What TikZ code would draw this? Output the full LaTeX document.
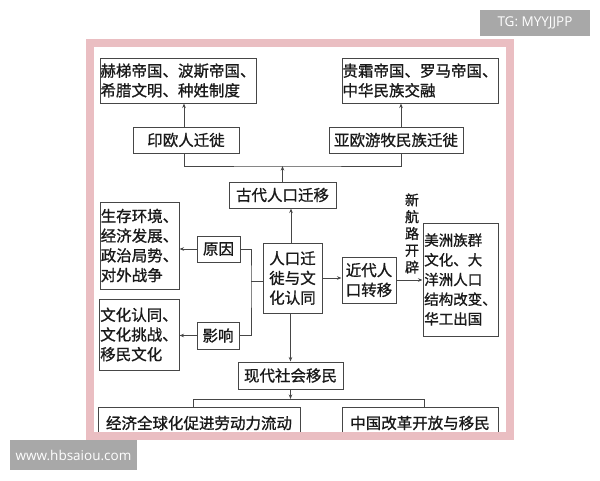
\documentclass[tikz,border=0pt]{standalone}
\usepackage{fontspec}
\setmainfont{Noto Sans CJK SC}[FakeBold=1]
\newfontfamily\wmfont{Open Sans}
\usetikzlibrary{arrows.meta}
\definecolor{pinkframe}{RGB}{234,190,194}
\definecolor{wmgray}{RGB}{168,168,168}
\definecolor{boxline}{RGB}{70,70,70}
\definecolor{txt}{RGB}{25,25,25}
\begin{document}
\begin{tikzpicture}[x=1pt,y=-1pt,
  box/.style={draw=boxline, line width=1pt, inner sep=0pt, text=txt,
    font=\fontsize{15.5}{19.7}\selectfont, align=left, fill=white},
  smallbox/.style={box, font=\fontsize{14.5}{19.7}\selectfont},
  conn/.style={draw=boxline, line width=0.9pt},
  arr/.style={conn, -{Stealth[length=4.5pt,width=3.5pt]}},
  wm/.style={fill=wmgray, text=white, font=\wmfont\fontsize{13.5}{15}\selectfont, inner sep=0pt}]
\useasboundingbox (0,0) rectangle (600,480);
\fill[white] (0,0) rectangle (600,480);

% boxes
\node[box, minimum width=156, minimum height=45] (tl) at (178,80.5) {赫梯帝国、波斯帝国、\\希腊文明、种姓制度};
\node[box, minimum width=156, minimum height=45] (tr) at (420,80.5) {贵霜帝国、罗马帝国、\\中华民族交融};
\node[box, minimum width=106, minimum height=26] (yinou) at (186,140) {印欧人迁徙};
\node[box, minimum width=134, minimum height=26] (yaou) at (396,140) {亚欧游牧民族迁徙};
\node[box, minimum width=107, minimum height=26] (gudai) at (282.5,195) {古代人口迁移};
\node[box, minimum width=59, minimum height=70] (center) at (292.5,278) {人口迁\\徙与文\\化认同};
\node[box, minimum width=79, minimum height=87] (shengcun) at (139.5,245.5) {生存环境、\\经济发展、\\政治局势、\\对外战争};
\node[box, minimum width=43, minimum height=26] (yuanyin) at (218.5,249) {原因};
\node[box, minimum width=80, minimum height=71] (wenhua) at (139,334.5) {文化认同、\\文化挑战、\\移民文化};
\node[box, minimum width=42, minimum height=27] (yingxiang) at (218,335.5) {影响};
\node[box, minimum width=54, minimum height=46] (jindai) at (369,280) {近代人\\口转移};
\node[smallbox, minimum width=75, minimum height=113] (meizhou) at (460.5,279.5) {美洲族群\\文化、大\\洋洲人口\\结构改变、\\华工出国};
\node[box, minimum width=105, minimum height=27] (xiandai) at (290.5,375.5) {现代社会移民};
\node[box, minimum width=202, minimum height=32] (bl) at (199,423) {经济全球化促进劳动力流动};
\node[box, minimum width=156, minimum height=32] (br) at (420,423) {中国改革开放与移民};
\node[text=txt, font=\fontsize{14}{16.8}\selectfont, align=center, inner sep=0pt] (xinhang) at (412,233.5) {新\\航\\路\\开\\辟};

% connectors
\draw[arr] ([xshift=-2pt]yinou.north) -- ([xshift=-2pt]yinou.north |- tl.south);
\draw[arr] ([xshift=5pt]yaou.north) -- ([xshift=5pt]yaou.north |- tr.south);
\coordinate (topbar) at (282.5,166);
\draw[conn] ([xshift=-2pt]yinou.south) |- (topbar) -| ([xshift=5pt]yaou.south);
\draw[arr] (gudai.north) -- (topbar);
\draw[arr] ([xshift=-1.5pt]center.north) -- ([xshift=-1.5pt]center.north |- gudai.south);
\draw[arr] (center.east) -- (center.east -| jindai.west);
\draw[arr] (jindai.east) -- (jindai.east -| meizhou.west);
\draw[arr] (yuanyin.west) -- (yuanyin.west -| shengcun.east);
\draw[arr] (yingxiang.west) -- (yingxiang.west -| wenhua.east);
\coordinate (brk) at (251,281);
\draw[conn] (yuanyin.east) -| (brk) |- (yingxiang.east);
\draw[conn] (brk) -- (brk -| center.west);
\draw[arr] (xiandai.north |- center.south) -- (xiandai.north);
\coordinate (botbar) at (290.5,399);
\coordinate (bll) at (193,399);
\coordinate (brr) at (424,399);
\draw[arr] (xiandai.south) -- (botbar);
\draw[conn] (bll |- bl.north) -- (bll) -- (brr) -- (brr |- br.north);

% frame
\draw[pinkframe, line width=8pt] (90,42.5) rectangle (510,436);

% watermarks
\node[wm, minimum width=110, minimum height=26] (tg) at (535,23) {TG: MYYJJPP};
\node[wm, minimum width=127, minimum height=30] (www) at (73.5,455) {www.hbsaiou.com};
\end{tikzpicture}
\end{document}
